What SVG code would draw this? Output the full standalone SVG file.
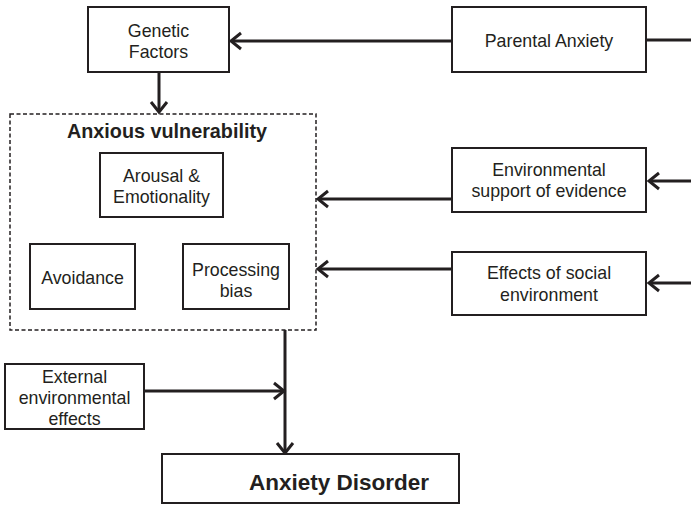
<svg xmlns="http://www.w3.org/2000/svg" width="691" height="505" viewBox="0 0 691 505">
  <style>
    .box { fill: #fff; stroke: #231f20; stroke-width: 2; }
    .dash { fill: none; stroke: #231f20; stroke-width: 1.5; stroke-dasharray: 4 2.5; }
    .lbl { font-family: "Liberation Sans", Arial, sans-serif; font-size: 17.8px; fill: #231f20; text-anchor: middle; }
    .title { font-weight: bold; font-size: 19.8px; }
    .big { font-weight: bold; font-size: 22.5px; }
    .edge { fill: none; stroke: #231f20; stroke-width: 3; }
  </style>
  <defs>
    <marker id="arrow" markerUnits="userSpaceOnUse" markerWidth="20" markerHeight="20" refX="13" refY="10" orient="auto">
      <path d="M3,2 L13,10 L3,18" fill="none" stroke="#231f20" stroke-width="3"/>
    </marker>
  </defs>

  <g id="connectors">
    <!-- Parental Anxiety to Genetic Factors -->
    <line class="edge" x1="452" y1="41" x2="231" y2="41" marker-end="url(#arrow)"/>
    <line class="edge" x1="646" y1="40" x2="691" y2="40"/>
    <!-- Genetic Factors down to vulnerability -->
    <line class="edge" x1="159" y1="72" x2="159" y2="112" marker-end="url(#arrow)"/>
    <!-- Environmental support -->
    <line class="edge" x1="452" y1="199" x2="318" y2="199" marker-end="url(#arrow)"/>
    <line class="edge" x1="691" y1="181" x2="649" y2="181" marker-end="url(#arrow)"/>
    <!-- Social environment -->
    <line class="edge" x1="452" y1="269" x2="318" y2="269" marker-end="url(#arrow)"/>
    <line class="edge" x1="691" y1="283" x2="649" y2="283" marker-end="url(#arrow)"/>
    <!-- Vulnerability to disorder -->
    <line class="edge" x1="285" y1="330" x2="285" y2="453" marker-end="url(#arrow)"/>
    <!-- External effects join -->
    <line class="edge" x1="145" y1="391" x2="284" y2="391" marker-end="url(#arrow)"/>
  </g>

  <g id="genetic-factors">
    <rect class="box" x="88" y="7" width="141" height="65"/>
    <text class="lbl" x="158.5" y="37">Genetic</text>
    <text class="lbl" x="158.5" y="58">Factors</text>
  </g>

  <g id="parental-anxiety">
    <rect class="box" x="452" y="7" width="194" height="65"/>
    <text class="lbl" x="549" y="47">Parental Anxiety</text>
  </g>

  <g id="anxious-vulnerability">
    <rect class="dash" x="10" y="114" width="306" height="216"/>
    <text class="lbl title" x="167" y="138">Anxious vulnerability</text>
  </g>

  <g id="arousal">
    <rect class="box" x="100" y="153" width="123" height="64"/>
    <text class="lbl" x="161.5" y="182">Arousal &amp;</text>
    <text class="lbl" x="161.5" y="203">Emotionality</text>
  </g>

  <g id="avoidance">
    <rect class="box" x="30" y="244" width="105" height="65"/>
    <text class="lbl" x="82.5" y="284">Avoidance</text>
  </g>

  <g id="processing-bias">
    <rect class="box" x="183" y="244" width="106" height="65"/>
    <text class="lbl" x="236" y="276">Processing</text>
    <text class="lbl" x="236" y="297">bias</text>
  </g>

  <g id="environmental-support">
    <rect class="box" x="452" y="148" width="194" height="64"/>
    <text class="lbl" x="549" y="176">Environmental</text>
    <text class="lbl" x="549" y="197">support of evidence</text>
  </g>

  <g id="social-environment">
    <rect class="box" x="452" y="252" width="194" height="63"/>
    <text class="lbl" x="549" y="279">Effects of social</text>
    <text class="lbl" x="549" y="301">environment</text>
  </g>

  <g id="external-effects">
    <rect class="box" x="5" y="364" width="139" height="65"/>
    <text class="lbl" x="74.5" y="383">External</text>
    <text class="lbl" x="74.5" y="404">environmental</text>
    <text class="lbl" x="74.5" y="425">effects</text>
  </g>

  <g id="anxiety-disorder">
    <rect class="box" x="162" y="454" width="297" height="49"/>
    <text class="lbl big" x="339" y="490">Anxiety Disorder</text>
  </g>
</svg>
